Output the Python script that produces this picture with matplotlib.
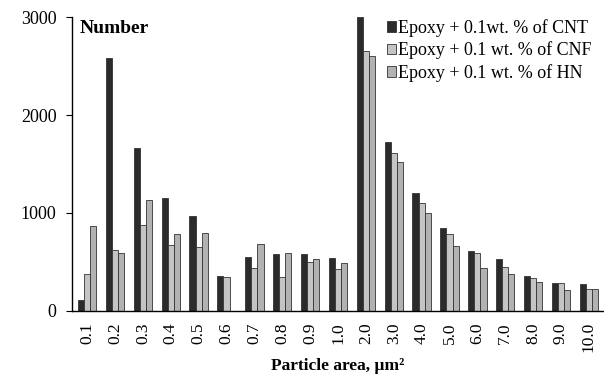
import numpy as np
import matplotlib.pyplot as plt

plt.rcParams['font.family'] = ['Liberation Serif', 'DejaVu Serif']

categories = ['0.1', '0.2', '0.3', '0.4', '0.5', '0.6', '0.7', '0.8', '0.9', '1.0',
              '2.0', '3.0', '4.0', '5.0', '6.0', '7.0', '8.0', '9.0', '10.0']
cnt = [110, 2580, 1660, 1150, 970, 360, 550, 580, 580, 545,
       3000, 1720, 1200, 850, 610, 530, 360, 290, 270]
cnf = [380, 620, 880, 670, 650, 350, 440, 350, 500, 430,
       2650, 1610, 1100, 790, 590, 450, 340, 280, 220]
hn = [870, 590, 1130, 790, 800, 0, 680, 590, 530, 490,
      2600, 1520, 1000, 660, 440, 380, 300, 210, 220]

labels = ['Epoxy + 0.1wt. % of CNT', 'Epoxy + 0.1 wt. % of CNF',
          'Epoxy + 0.1 wt. % of HN']
colors = ['#2b2b2b', '#c4c4c4', '#b2b2b2']

fig = plt.figure(figsize=(6.04, 3.81), dpi=100)
ax = fig.add_axes([0.119, 0.184, 0.879, 0.771])

x = np.arange(len(categories))
w = 0.22
for i, (vals, lab, c) in enumerate(zip([cnt, cnf, hn], labels, colors)):
    ax.bar(x + (i - 1) * w, vals, width=w, color=c, edgecolor='#333333',
           linewidth=0.6, label=lab)

ax.set_xlim(-0.55, 18.5)
ax.set_ylim(0, 3000)
ax.set_yticks([0, 1000, 2000, 3000])
ax.set_xticks(x)
ax.set_xticklabels(categories, rotation=90, fontsize=12.5)
ax.tick_params(axis='y', labelsize=13, length=4, direction='out', pad=7)
ax.tick_params(axis='x', length=0, pad=8)
for s in ['top', 'right']:
    ax.spines[s].set_visible(False)
ax.spines['left'].set_linewidth(1.0)
ax.spines['bottom'].set_linewidth(1.0)

ax.text(0.015, 0.99, 'Number', transform=ax.transAxes, fontsize=14,
        fontweight='bold', va='top', ha='left')
ax.set_xlabel('Particle area, \u00b5m\u00b2', fontsize=12.5,
              fontweight='bold', labelpad=4)

ax.legend(loc='upper right', bbox_to_anchor=(1.0, 1.03), frameon=False,
          fontsize=13, handlelength=0.5, handleheight=0.5,
          handletextpad=0.15, labelspacing=0.25, borderaxespad=0.2)

fig.savefig('out.png', dpi=100)
